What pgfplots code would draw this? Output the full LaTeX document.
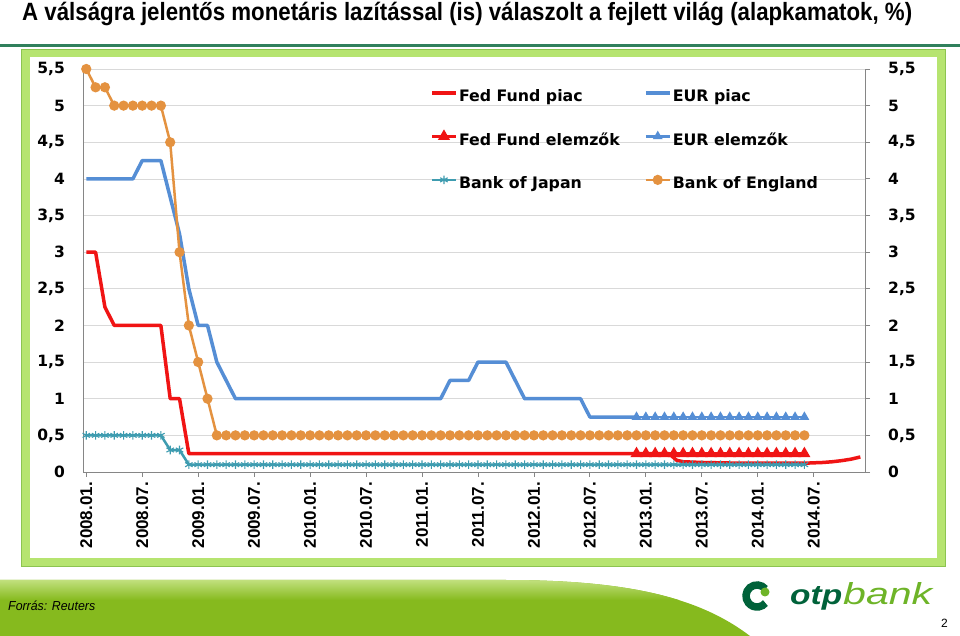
\documentclass[border=0pt]{standalone}
\usepackage{pgfplots}
\pgfplotsset{compat=1.18}
\usepackage{fontspec}
\setmainfont{Liberation Sans}
\newfontfamily\dejavu{DejaVu Sans}
\definecolor{fedred}{RGB}{240,20,20}
\definecolor{eurblue}{RGB}{85,142,213}
\definecolor{boeorange}{RGB}{228,146,64}
\definecolor{bojteal}{RGB}{62,156,176}
\definecolor{framegreen}{RGB}{182,228,112}
\definecolor{frameedge}{RGB}{140,196,80}
\definecolor{titleline}{RGB}{48,128,92}
\definecolor{footgreen}{RGB}{134,186,30}
\definecolor{footlight}{RGB}{196,226,130}
\definecolor{otpdark}{RGB}{0,98,58}
\definecolor{otplight}{RGB}{110,180,40}
\definecolor{gridgray}{RGB}{217,217,217}
\definecolor{axisgray}{RGB}{134,134,134}
\newcommand\legfont{\fontsize{15.8}{18}\selectfont\dejavu\bfseries}
\newcommand\yfont{\fontsize{15.5}{17}\selectfont\dejavu\bfseries}
\newcommand\xfont{\fontsize{17}{18}\selectfont\bfseries}
\begin{document}
\begin{tikzpicture}[x=1pt,y=1pt]
\fill[white] (0,0) rectangle (960,636);
% title
\node[anchor=base west, inner sep=0pt] at (22,615) {\resizebox{890pt}{\height}{\fontsize{25}{28}\selectfont\bfseries A válságra jelentős monetáris lazítással (is) válaszolt a fejlett világ (alapkamatok, \%)}};
\fill[titleline] (0,589) rectangle (960,592);
% frame
\fill[frameedge] (21,69) rectangle (946,587);
\fill[framegreen] (22,70) rectangle (945,586);
\fill[white] (30,78) rectangle (937,579);
% footer
\begin{scope}
\clip (0,0) -- (0,56) -- (505,56) .. controls (630,56) and (700,38) .. (750,0) -- cycle;
\fill[footgreen] (0,0) rectangle (960,60);
\shade[top color=footlight, bottom color=footgreen] (0,36) rectangle (960,57);
\end{scope}
\node[anchor=base west, inner sep=0pt] at (8,25) {\resizebox{87pt}{\height}{\fontsize{13}{15}\selectfont\itshape Forrás: Reuters}};
\node[anchor=base west, inner sep=0pt] at (941,8) {\fontsize{12}{14}\selectfont 2};
% logo
\draw[otpdark, line width=7.5pt] (757,40) ++(40:11) arc[start angle=40, end angle=320, radius=11];
\fill[otplight] (765,44) circle (4.5);
\node[anchor=base west, inner sep=0pt, text=otpdark] at (790,31) {\resizebox{52pt}{18pt}{\bfseries\itshape otp}};
\node[anchor=base west, inner sep=0pt, text=otplight] at (843,31) {\resizebox{89pt}{22pt}{\itshape bank}};

\begin{axis}[
  at={(83pt,164pt)}, anchor=south west, scale only axis, width=782pt, height=403pt,
  xmin=-0.35, xmax=83.5, ymin=0, ymax=5.5, clip=false,
  axis x line*=bottom, axis y line*=left,
  axis line style={axisgray, line width=0.8pt},
  xtick={0,6,...,78},
  xticklabels={2008.01.,2008.07.,2009.01.,2009.07.,2010.01.,2010.07.,2011.01.,2011.07.,2012.01.,2012.07.,2013.01.,2013.07.,2014.01.,2014.07.},
  x tick label style={rotate=90, anchor=east, font=\xfont, inner sep=0pt, xshift=-5pt},
  ytick={0,0.5,1,1.5,2,2.5,3,3.5,4,4.5,5,5.5},
  yticklabels={0,{0,5},1,{1,5},2,{2,5},3,{3,5},4,{4,5},5,{5,5}},
  y tick label style={font=\yfont, inner sep=0pt, xshift=-13pt, anchor=east},
  ymajorgrids, grid style={gridgray, line width=0.8pt},
  major tick length=5pt, tick align=outside,
  xtick style={axisgray, line width=0.8pt},
  ytick style={draw=none},
  legend columns=2, legend cell align=left,
  legend image code/.code={\draw[mark repeat=2,mark phase=2,#1] plot coordinates {(0pt,4.5pt)(11.8pt,4.5pt)(23.6pt,4.5pt)};},
  legend style={at={(0.444,0.9524)}, anchor=north west, draw=none, fill=none, inner sep=0pt, font=\legfont,
    nodes={inner sep=1.5pt, text height=12pt, text depth=3pt}, row sep=25.5pt},
]
% Fed piac
\addplot[fedred, line width=3.5pt, line join=round, forget plot] coordinates {
(0,3)(1,3)(2,2.25)(3,2)(8,2)(9,1)(10,1)(11,0.25)(62.5,0.25)(63.3,0.16)(64,0.14)(66,0.13)(70,0.12)(74,0.12)(77,0.12)(79,0.13)(80,0.14)(81,0.155)(82,0.175)(83,0.205)};
% EUR piac
\addplot[eurblue, line width=3.5pt, line join=round, forget plot] coordinates {
(0,4)(5,4)(6,4.25)(8,4.25)(9,3.75)(10,3.25)(11,2.5)(12,2)(13,2)(14,1.5)(15,1.25)(16,1)(38,1)(39,1.25)(41,1.25)(42,1.5)(45,1.5)(46,1.25)(47,1)(53,1)(54,0.75)(59,0.75)};
% Fed elemzok
\addplot[fedred, line width=3pt, mark=triangle*, mark size=4pt, forget plot] coordinates {
(59,0.25)(60,0.25)(61,0.25)(62,0.25)(63,0.25)(64,0.25)(65,0.25)(66,0.25)(67,0.25)(68,0.25)(69,0.25)(70,0.25)(71,0.25)(72,0.25)(73,0.25)(74,0.25)(75,0.25)(76,0.25)(77,0.25)};
% EUR elemzok
\addplot[eurblue, line width=2.5pt, mark=triangle*, mark size=3.2pt, forget plot] coordinates {
(59,0.75)(60,0.75)(61,0.75)(62,0.75)(63,0.75)(64,0.75)(65,0.75)(66,0.75)(67,0.75)(68,0.75)(69,0.75)(70,0.75)(71,0.75)(72,0.75)(73,0.75)(74,0.75)(75,0.75)(76,0.75)(77,0.75)};
% Bank of Japan
\addplot[bojteal, line width=2.5pt, mark=asterisk, mark size=4.3pt, mark options={line width=1.1pt}, forget plot] coordinates {
(0,0.5)(1,0.5)(2,0.5)(3,0.5)(4,0.5)(5,0.5)(6,0.5)(7,0.5)(8,0.5)(9,0.3)(10,0.3)
(11,0.1)(12,0.1)(13,0.1)(14,0.1)(15,0.1)(16,0.1)(17,0.1)(18,0.1)(19,0.1)(20,0.1)
(21,0.1)(22,0.1)(23,0.1)(24,0.1)(25,0.1)(26,0.1)(27,0.1)(28,0.1)(29,0.1)(30,0.1)
(31,0.1)(32,0.1)(33,0.1)(34,0.1)(35,0.1)(36,0.1)(37,0.1)(38,0.1)(39,0.1)(40,0.1)
(41,0.1)(42,0.1)(43,0.1)(44,0.1)(45,0.1)(46,0.1)(47,0.1)(48,0.1)(49,0.1)(50,0.1)
(51,0.1)(52,0.1)(53,0.1)(54,0.1)(55,0.1)(56,0.1)(57,0.1)(58,0.1)(59,0.1)(60,0.1)
(61,0.1)(62,0.1)(63,0.1)(64,0.1)(65,0.1)(66,0.1)(67,0.1)(68,0.1)(69,0.1)(70,0.1)
(71,0.1)(72,0.1)(73,0.1)(74,0.1)(75,0.1)(76,0.1)(77,0.1)};
% Bank of England
\addplot[boeorange, line width=2.5pt, mark=*, mark size=3.8pt, forget plot] coordinates {
(0,5.5)(1,5.25)(2,5.25)(3,5)(4,5)(5,5)(6,5)(7,5)(8,5)(9,4.5)(10,3)(11,2)(12,1.5)(13,1)
(14,0.5)(15,0.5)(16,0.5)(17,0.5)(18,0.5)(19,0.5)(20,0.5)
(21,0.5)(22,0.5)(23,0.5)(24,0.5)(25,0.5)(26,0.5)(27,0.5)(28,0.5)(29,0.5)(30,0.5)
(31,0.5)(32,0.5)(33,0.5)(34,0.5)(35,0.5)(36,0.5)(37,0.5)(38,0.5)(39,0.5)(40,0.5)
(41,0.5)(42,0.5)(43,0.5)(44,0.5)(45,0.5)(46,0.5)(47,0.5)(48,0.5)(49,0.5)(50,0.5)
(51,0.5)(52,0.5)(53,0.5)(54,0.5)(55,0.5)(56,0.5)(57,0.5)(58,0.5)(59,0.5)(60,0.5)
(61,0.5)(62,0.5)(63,0.5)(64,0.5)(65,0.5)(66,0.5)(67,0.5)(68,0.5)(69,0.5)(70,0.5)
(71,0.5)(72,0.5)(73,0.5)(74,0.5)(75,0.5)(76,0.5)(77,0.5)};
% legend
\addlegendimage{fedred, line width=3.5pt}
\addlegendentry{\makebox[183.7pt][l]{Fed Fund piac}}
\addlegendimage{eurblue, line width=3.5pt}
\addlegendentry{EUR piac}
\addlegendimage{fedred, line width=3pt, mark=triangle*, mark size=4pt}
\addlegendentry{\makebox[183.7pt][l]{Fed Fund elemzők}}
\addlegendimage{eurblue, line width=2.5pt, mark=triangle*, mark size=3.2pt}
\addlegendentry{EUR elemzők}
\addlegendimage{bojteal, line width=2.5pt, mark=asterisk, mark size=4.3pt, mark options={line width=1.1pt}}
\addlegendentry{\makebox[183.7pt][l]{Bank of Japan}}
\addlegendimage{boeorange, line width=2.5pt, mark=*, mark size=3.8pt}
\addlegendentry{Bank of England}
\end{axis}

\begin{axis}[
  at={(83pt,164pt)}, anchor=south west, scale only axis, width=782pt, height=403pt,
  xmin=-0.35, xmax=83.5, ymin=0, ymax=5.5,
  axis x line=none, axis y line*=right,
  axis line style={axisgray, line width=0.8pt},
  ytick={0,0.5,1,1.5,2,2.5,3,3.5,4,4.5,5,5.5},
  yticklabels={0,{0,5},1,{1,5},2,{2,5},3,{3,5},4,{4,5},5,{5,5}},
  y tick label style={font=\yfont, inner sep=0pt, xshift=18pt, anchor=west},
  major tick length=5pt, tick align=outside,
  ytick style={axisgray, line width=0.8pt},
]
\addplot[draw=none] coordinates {(0,0)};
\end{axis}
\pgfresetboundingbox
\path (0,0) rectangle (960,636);
\end{tikzpicture}
\end{document}
